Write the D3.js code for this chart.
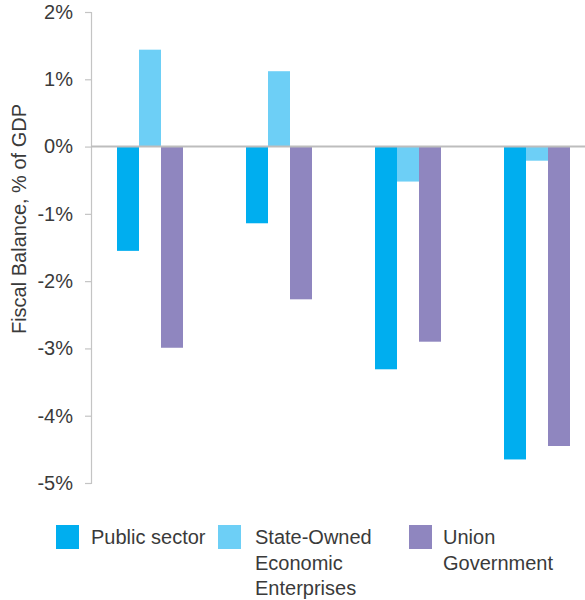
<!DOCTYPE html>
<html>
<head>
<meta charset="utf-8">
<script src="https://cdn.jsdelivr.net/npm/d3@7"></script>
<style>
  html, body { margin: 0; padding: 0; background: #fff; }
  svg text { font-family: "Liberation Sans", Arial, sans-serif; fill: #3a3a3a; }
</style>
</head>
<body>
<svg id="chart" width="585" height="600"></svg>
<script>
// ---- data ----
const groups = ["G1", "G2", "G3", "G4"];
const seriesNames = ["Public sector", "State-Owned\nEconomic\nEnterprises", "Union\nGovernment"];
const publicSector = [-1.55, -1.14, -3.31, -4.65];
const stateOwned = [1.44, 1.12, -0.52, -0.21];
const unionGov = [-2.99, -2.27, -2.90, -4.45];
const yTicks = [-5, -4, -3, -2, -1, 0, 1, 2];
const yTitle = "Fiscal Balance, % of GDP";
const colors = ["#00aeef", "#6dcff6", "#8f86bf"];

const seriesValues = [publicSector, stateOwned, unionGov];

const svg = d3.select("#chart");

const y = d3.scaleLinear().domain([-5, 2]).range([483, 12]);
const x = d3.scaleBand().domain(groups).range([85.5, 601.5]).paddingInner(0).paddingOuter(0);
const groupW = 66;
const xs = d3.scaleBand().domain(d3.range(seriesNames.length)).range([0, groupW]);

// bars
seriesValues.forEach((vals, si) => {
  svg.append("g").selectAll("rect").data(vals).join("rect")
    .attr("x", (d, i) => x(groups[i]) + x.bandwidth() / 2 - groupW / 2 + xs(si))
    .attr("width", xs.bandwidth())
    .attr("y", d => y(Math.max(0, d)))
    .attr("height", d => Math.abs(y(d) - y(0)))
    .attr("fill", colors[si]);
});

// y axis
const yAxis = d3.axisLeft(y).tickValues(yTicks).tickFormat(d => d + "%").tickSize(6).tickPadding(12);
const ga = svg.append("g").attr("transform", "translate(91,0)").call(yAxis);
ga.select(".domain").attr("stroke", "#c4c4c4").attr("stroke-width", 1.2);
ga.selectAll(".tick line").attr("stroke", "#c4c4c4").attr("stroke-width", 1.2);
ga.selectAll(".tick text").attr("font-size", 20).attr("fill", "#3a3a3a")
  .style("font-family", "'Liberation Sans', Arial, sans-serif");

// zero line
svg.append("line")
  .attr("x1", 91).attr("x2", 585)
  .attr("y1", y(0)).attr("y2", y(0))
  .attr("stroke", "#bdbdbd").attr("stroke-width", 2);

// y title
svg.append("text")
  .attr("transform", `translate(26,219) rotate(-90)`)
  .attr("text-anchor", "middle")
  .attr("font-size", 20)
  .text(yTitle);

// legend
const legendX = [56, 218, 409];
const legend = svg.append("g");
seriesNames.forEach((name, i) => {
  const g = legend.append("g").attr("transform", `translate(${legendX[i]},525)`);
  g.append("rect").attr("width", 23).attr("height", 24).attr("fill", colors[i]);
  const tx = i === 0 ? 35 : (i === 1 ? 37 : 34);
  const t = g.append("text").attr("x", tx).attr("y", 19).attr("font-size", 20);
  name.split("\n").forEach((line, li) => {
    t.append("tspan").attr("x", tx).attr("dy", li === 0 ? 0 : 25.5).text(line);
  });
});
</script>
</body>
</html>
